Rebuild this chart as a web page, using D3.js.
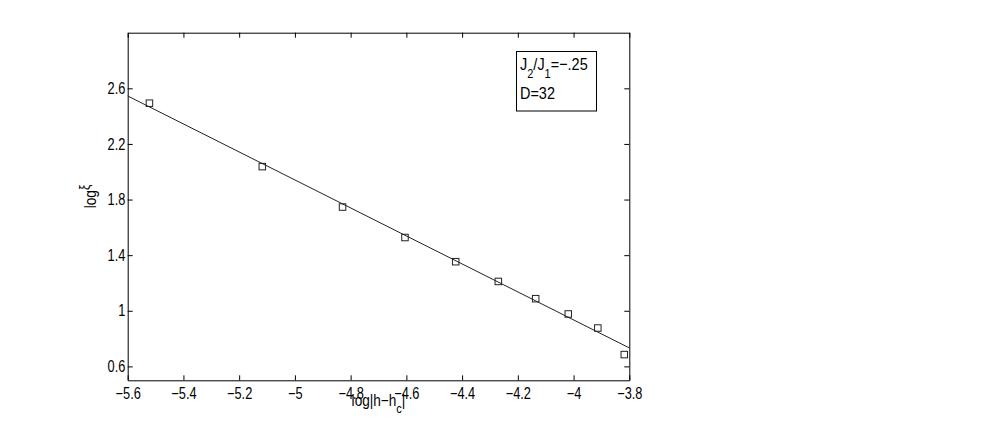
<!DOCTYPE html>
<html>
<head>
<meta charset="utf-8">
<script src="https://cdn.jsdelivr.net/npm/d3@7"></script>
<style>
  html, body { margin: 0; padding: 0; background: #fff; }
  svg { display: block; }
  text { font-family: "Liberation Sans", Arial, sans-serif; fill: #000; }
</style>
</head>
<body>
<div id="chart"></div>
<script>
// Data;
var logH = [-5.522, -5.117, -4.829, -4.605, -4.423, -4.270, -4.136, -4.019, -3.913, -3.818]
var logXi = [2.493, 2.037, 1.746, 1.527, 1.353, 1.211, 1.087, 0.977, 0.876, 0.685]

// Fitted straight line (end points);
var fitX = [-5.6, -3.8]
var fitY = [2.545, 0.733]

// Ticks;
var xTicks = [-5.6, -5.4, -5.2, -5, -4.8, -4.6, -4.4, -4.2, -4, -3.8]
var yTicks = [0.6, 1, 1.4, 1.8, 2.2, 2.6]

// Legend lines (odd entries are subscripts);
var legendLines = [["J", "2", "/J", "1", "=−.25"], ["D=32"]]

// Layout;
const width = 981
const height = 436
const plot = { left: 127.7, right: 629.3, top: 32.7, bottom: 380.3 }
const tickSqueeze = 0.8   // narrow helvetica look;
const labelSqueeze = 0.85
const tickFont = 16

const svg = d3.select("#chart").append("svg")
    .attr("width", width)
    .attr("height", height)

const x = d3.scaleLinear().domain([-5.6, -3.8]).range([plot.left, plot.right])
const y = d3.scaleLinear().domain([0.5, 3.0]).range([plot.bottom, plot.top])

var fmt = d => (d < 0 ? "−" : "") + String(+Math.abs(d).toFixed(1))

// Axes, ticks pointing inwards on all four sides;
var styleAxis = (g) => {
    g.select(".domain").attr("stroke", "#000").attr("stroke-width", 1)
    g.selectAll(".tick line").attr("stroke", "#000").attr("stroke-width", 1)
    g.selectAll("text")
        .attr("font-size", tickFont)
        .attr("font-family", "Liberation Sans, Arial, sans-serif")
        .attr("fill", "#000")
        .attr("transform", `scale(${tickSqueeze},1)`)
}

svg.append("g")
    .attr("transform", `translate(0,${plot.bottom})`)
    .call(d3.axisBottom(x).tickValues(xTicks).tickFormat(fmt).tickSize(-5).tickSizeOuter(0).tickPadding(7))
    .call(styleAxis)

svg.append("g")
    .attr("transform", `translate(0,${plot.top})`)
    .call(d3.axisTop(x).tickValues(xTicks).tickFormat("").tickSize(-5).tickSizeOuter(0))
    .call(styleAxis)

svg.append("g")
    .attr("transform", `translate(${plot.left},0)`)
    .call(d3.axisLeft(y).tickValues(yTicks).tickFormat(fmt).tickSize(-5).tickSizeOuter(0).tickPadding(3))
    .call(styleAxis)

svg.append("g")
    .attr("transform", `translate(${plot.right},0)`)
    .call(d3.axisRight(y).tickValues(yTicks).tickFormat("").tickSize(-5).tickSizeOuter(0))
    .call(styleAxis)

// Axis labels;
const xLabel = svg.append("text")
    .attr("transform", `translate(${(plot.left + plot.right) / 2},406) scale(${labelSqueeze},1)`)
    .attr("text-anchor", "middle")
    .attr("font-size", 16)
xLabel.append("tspan").text("log|h−h")
xLabel.append("tspan").attr("font-size", 13).attr("dy", 7).text("c")
xLabel.append("tspan").attr("dy", -7).text("|")

const yLabel = svg.append("text")
    .attr("transform", `translate(96,${(plot.top + plot.bottom) / 2 - 10}) rotate(-90) scale(${labelSqueeze},1)`)
    .attr("text-anchor", "middle")
    .attr("font-size", 16)
yLabel.append("tspan").text("log")
yLabel.append("tspan").attr("font-size", 14).attr("dy", -6).text("ξ")

// Fitted line;
svg.append("path")
    .datum(d3.zip(fitX, fitY))
    .attr("fill", "none")
    .attr("stroke", "#222")
    .attr("stroke-width", 1)
    .attr("d", d3.line().x(d => x(d[0])).y(d => y(d[1])))

// Square markers;
const sq = 6.5
svg.selectAll("rect.pt")
    .data(d3.zip(logH, logXi))
    .join("rect")
    .attr("class", "pt")
    .attr("x", d => x(d[0]) - sq / 2)
    .attr("y", d => y(d[1]) - sq / 2)
    .attr("width", sq)
    .attr("height", sq)
    .attr("fill", "none")
    .attr("stroke", "#222")
    .attr("stroke-width", 1)

// Legend box;
svg.append("rect")
    .attr("x", 516.5)
    .attr("y", 51.5)
    .attr("width", 80)
    .attr("height", 59.5)
    .attr("fill", "#fff")
    .attr("stroke", "#000")
    .attr("stroke-width", 1)

legendLines.forEach((parts, i) => {
    const t = svg.append("text")
        .attr("transform", `translate(520,${69.5 + i * 29.5}) scale(${labelSqueeze},1)`)
        .attr("font-size", 17)
    parts.forEach((p, j) => {
        const ts = t.append("tspan").text(p)
        if (parts.length > 1 && j % 2 == 1) ts.attr("font-size", 13).attr("dy", 8)
        else if (j > 0) ts.attr("dy", -8)
    })
})
</script>
</body>
</html>
